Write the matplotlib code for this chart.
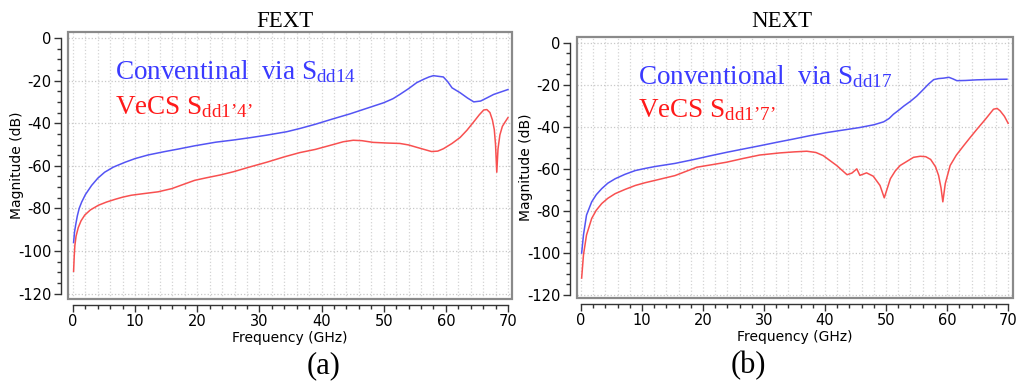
import numpy as np
import matplotlib
matplotlib.use("Agg")
from matplotlib import pyplot as plt
from matplotlib.patches import Rectangle
from matplotlib.ticker import MultipleLocator

# FEXT (a)
fext_conv_f = [0.1, 0.25, 0.45, 0.7, 1.0, 1.4, 2.0, 3.0, 4.0, 5.1, 6.5, 8.4, 10.0, 12.1, 14.8, 17.0,
               19.6, 23.0, 25.8, 28.5, 31.2, 34.4, 36.5, 39.0, 41.8, 44.6, 47.3, 50.0, 51.5, 52.6,
               54.0, 55.3, 56.5, 57.3, 58.0, 58.8, 59.6, 60.3, 61.0, 62.3, 63.5, 64.5, 65.6, 66.7,
               67.7, 69.0, 70.0]
fext_conv_db = [-96, -91, -87.5, -83.5, -80, -77, -73.5, -69.2, -65.8, -63, -60.6, -58.3, -56.6,
                -54.9, -53.3, -52.1, -50.6, -48.9, -47.9, -46.8, -45.6, -44.0, -42.5, -40.5, -38.0,
                -35.6, -33, -30.4, -28.5, -26.5, -23.8, -21, -19.3, -18.3, -17.7, -18.0, -18.3,
                -20.5, -23.4, -25.7, -28.2, -30, -29.6, -28.0, -26.5, -25.2, -24.2]
fext_vecs_f = [0.1, 0.2, 0.3, 0.5, 0.85, 1.3, 1.9, 2.8, 4.1, 5.4, 6.8, 8.0, 9.4, 11.5, 13.7, 15.9,
               17.7, 19.6, 21.5, 23.7, 25.8, 28.5, 31.2, 34.0, 36.5, 39.0, 41.9, 43.5, 45.1, 46.5,
               48.3, 50.5, 52.6, 54.0, 55.3, 56.5, 57.7, 58.7, 59.6, 61.0, 62.3, 63.4, 64.4, 65.4,
               66.1, 66.6, 67.1, 67.5, 67.8, 68.0, 68.2, 68.4, 68.7, 69.1, 69.5, 70.0]
fext_vecs_db = [-109.5, -102.5, -97.5, -93, -89, -85.8, -83.1, -80.7, -78.5, -77, -75.7, -74.7,
                -73.8, -73, -72.2, -70.7, -68.8, -66.8, -65.6, -64.3, -62.8, -60.5, -58.3, -55.8,
                -53.8, -52.3, -50.0, -48.7, -48.0, -48.2, -49, -49.3, -49.5, -50.2, -51.3, -52.3,
                -53.3, -53.1, -52, -49.5, -46.7, -43.3, -39.7, -36, -33.8, -33.6, -35, -38.5, -43,
                -50, -63, -52, -45.5, -41.5, -39.6, -37.4]

# NEXT (b)
next_conv_f = [0.1, 0.4, 0.9, 1.75, 2.5, 3.4, 4.4, 5.6, 7.2, 8.9, 10.5, 12.1, 15.4, 18.4, 21.0, 23.9,
               26.5, 29.3, 32.0, 34.8, 37.5, 40.3, 43.0, 45.7, 48.0, 49.6, 50.5, 51.2, 52.1, 52.9,
               54.0, 55.0, 56.0, 57.0, 57.8, 58.6, 59.4, 60.3, 61.0, 61.6, 63.0, 64.9, 67.5, 69.8]
next_conv_db = [-100.1, -91.5, -82, -75.7, -72.3, -69.4, -66.8, -64.7, -62.6, -60.8, -59.8, -58.9,
                -57.4, -55.6, -53.9, -52.1, -50.6, -49, -47.4, -45.8, -44.2, -42.7, -41.5, -40.3,
                -39, -37.6, -36, -34, -32, -30.1, -27.8, -25.4, -22.5, -19.5, -17.5, -17.0, -16.8,
                -16.4, -17.2, -18, -17.9, -17.6, -17.4, -17.3]
next_vecs_f = [0.1, 0.4, 0.9, 1.75, 2.5, 3.4, 4.4, 5.6, 7.2, 8.9, 10.5, 12.1, 15.4, 17.2, 19.0, 21.5,
               23.9, 26.5, 29.3, 32.6, 35.0, 37.0, 38.5, 39.7, 41.9, 43.6, 44.4, 45.2, 45.7, 46.8,
               47.9, 49.0, 49.7, 50.7, 51.5, 52.3, 54.5, 55.6, 56.5, 57.3, 58.1, 58.6, 59.0, 59.3,
               59.7, 60.5, 61.5, 62.7, 63.8, 64.9, 66.3, 67.6, 68.2, 68.7, 69.4, 70.0]
next_vecs_db = [-112, -101, -91.5, -83.6, -79.7, -76.5, -74, -71.8, -69.8, -67.9, -66.6, -65.5,
                -63.2, -61.2, -59.2, -58, -56.8, -55.1, -53.4, -52.4, -51.9, -51.6, -52.2, -53.7,
                -58.4, -62.8, -62, -60, -63.1, -61.9, -63.5, -67.9, -73.8, -64.7, -61, -58.4,
                -54.5, -54, -54.2, -55.5, -59, -63.1, -69, -75.7, -67, -58.4, -53.5, -49, -45,
                -41.1, -36.3, -31.6, -31.2, -32.4, -35, -38.3]

blue = '#5454f4'
red = '#f85050'

plt.rcParams.update({'font.family': 'DejaVu Sans',
                     'axes.unicode_minus': False,
                     'mathtext.fontset': 'custom',
                     'mathtext.rm': 'Liberation Serif',
                     'mathtext.it': 'Liberation Serif'})

fig = plt.figure(figsize=(10.16, 3.81), dpi=100)
ax_a = fig.add_axes([68 / 1016, 1 - 299 / 381, 444 / 1016, 267 / 381])
ax_b = fig.add_axes([577 / 1016, 1 - 298 / 381, 436 / 1016, 261 / 381])


def style_axis(ax, xlim, ylim, ylabel_x):
    ax.set_xlim(*xlim)
    ax.set_ylim(*ylim)
    for side in ('top', 'right'):
        ax.spines[side].set_visible(False)
    ax.spines['left'].set_position(('outward', 5))
    ax.spines['bottom'].set_position(('outward', 4))
    ax.spines['left'].set_bounds(-120, 0)
    ax.spines['bottom'].set_bounds(0, 70)
    for side in ('left', 'bottom'):
        ax.spines[side].set_color('#333333')
        ax.spines[side].set_linewidth(1.0)
    ax.add_patch(Rectangle((0, 0), 1, 1, transform=ax.transAxes, fill=False,
                           ec='#8a8a8a', lw=1.6, clip_on=False, zorder=5))
    ax.xaxis.set_major_locator(MultipleLocator(10))
    ax.xaxis.set_minor_locator(MultipleLocator(2))
    ax.yaxis.set_major_locator(MultipleLocator(20))
    ax.yaxis.set_minor_locator(MultipleLocator(5))
    ax.tick_params(which='major', length=5, width=1, color='#333333', labelsize=10.5, pad=2)
    ax.tick_params(which='minor', length=3, width=1, color='#333333')
    ax.grid(True, which='major', axis='y', ls=':', color='#c8c8c8', lw=0.9)
    ax.grid(True, which='both', axis='x', ls=':', color='#d4d4d4', lw=0.9)
    ax.set_xlabel('Frequency (GHz)', fontsize=10, labelpad=1)
    ax.set_ylabel('Magnitude (dB)', fontsize=10)
    ax.yaxis.set_label_coords(ylabel_x, 0.5)


style_axis(ax_a, (-0.8, 70.65), (-122.5, 2.8), -0.1)
style_axis(ax_b, (-0.66, 70.8), (-121.5, 2.8), -0.102)

ax_a.plot(fext_conv_f, fext_conv_db, color=blue, lw=1.1)
ax_a.plot(fext_vecs_f, fext_vecs_db, color=red, lw=1.1)
ax_b.plot(next_conv_f, next_conv_db, color=blue, lw=1.1)
ax_b.plot(next_vecs_f, next_vecs_db, color=red, lw=1.1)

serif = 'Liberation Serif'
ax_a.text(6.7, -19.5, 'Conventinal  via S$_{\\mathrm{dd14}}$', color='#3a3aff',
          fontsize=19.5, family=serif, va='baseline')
ax_a.text(6.7, -35.8, 'VeCS S$_{\\mathrm{dd1\u20194\u2019}}$', color='#ff1a1a',
          fontsize=19.5, family=serif, va='baseline')
ax_b.text(9.3, -19.8, 'Conventional  via S$_{\\mathrm{dd17}}$', color='#3a3aff',
          fontsize=19.5, family=serif, va='baseline')
ax_b.text(9.3, -35.4, 'VeCS S$_{\\mathrm{dd1\u20197\u2019}}$', color='#ff1a1a',
          fontsize=19.5, family=serif, va='baseline')

fig.text(285 / 1016, 1 - 27 / 381, 'FEXT', family=serif, fontsize=16.5, ha='center', va='baseline')
fig.text(782 / 1016, 1 - 27 / 381, 'NEXT', family=serif, fontsize=16.5, ha='center', va='baseline')
fig.text(324 / 1016, 1 - 366 / 381, '(a)', family=serif, fontsize=22, ha='center', va='center')
fig.text(748 / 1016, 1 - 366 / 381, '(b)', family=serif, fontsize=22, ha='center', va='center')

fig.savefig('out.png', dpi=100)
